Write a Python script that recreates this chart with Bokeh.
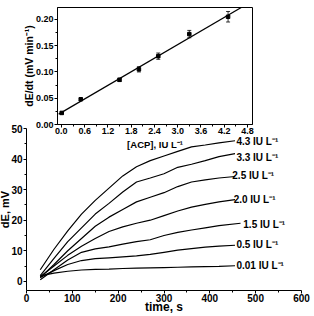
from bokeh.plotting import figure
from bokeh.models import (ColumnDataSource, Whisker, TeeHead,
                          FixedTicker, NumeralTickFormatter)
from bokeh.core.properties import value
from bokeh.embed import file_html
from bokeh.resources import INLINE
import numpy as np

FONT = "Liberation Sans"

# ---- kinetic curves: potential change vs time for each ACP activity ----
time_s = [30, 60, 90, 120, 150, 180, 210, 240, 270, 300, 330, 360, 390, 420, 455]
de_43 = [3.8, 10.5, 16.5, 22.0, 26.5, 30.5, 34.5, 37.5, 39.5, 41.0, 42.5, 44.0, 44.6, 45.3, 46.0]
de_33 = [1.9, 7.5, 13.0, 17.5, 22.0, 25.5, 29.2, 32.5, 33.8, 35.2, 37.3, 38.3, 39.5, 40.8, 41.8]
de_25 = [1.2, 5.5, 10.0, 14.0, 18.0, 21.0, 23.5, 26.0, 27.5, 29.0, 31.0, 32.5, 33.2, 33.8, 34.3]
de_20 = [1.5, 5.0, 8.5, 11.5, 14.0, 16.3, 17.8, 19.0, 20.0, 21.5, 23.0, 24.3, 25.2, 26.0, 26.7]
time_15 = [30, 60, 90, 120, 150, 180, 210, 240, 270, 300, 330, 360, 390, 420, 467]
de_15 = [0.5, 3.8, 7.0, 9.5, 10.6, 11.3, 12.2, 13.0, 13.6, 15.0, 16.0, 16.8, 17.5, 18.2, 19.0]
de_05 = [1.3, 3.5, 5.5, 6.8, 7.4, 7.7, 8.0, 8.3, 8.8, 9.5, 10.2, 10.7, 11.2, 11.5, 11.8]
de_001 = [1.8, 2.7, 3.3, 3.7, 3.9, 4.0, 4.2, 4.3, 4.4, 4.5, 4.6, 4.7, 4.8, 4.9, 5.1]

curve_labels = ["4.3 IU L⁻¹", "3.3 IU L⁻¹", "2.5 IU L⁻¹", "2.0 IU L⁻¹",
                "1.5 IU L⁻¹", "0.5 IU L⁻¹", "0.01 IU L⁻¹"]
label_x = [458, 458, 449, 452, 473, 458, 458]
label_y = [45.8, 40.6, 34.7, 26.8, 18.6, 12.0, 5.1]

# ---- calibration: initial rate vs ACP activity ----
acp = [0.01, 0.5, 1.5, 2.0, 2.5, 3.3, 4.3]
rate = [0.022, 0.048, 0.085, 0.105, 0.130, 0.172, 0.205]
rate_err = [0.002, 0.002, 0.003, 0.005, 0.006, 0.007, 0.010]
x_ticks_inset = [0.0, 0.6, 1.2, 1.8, 2.4, 3.0, 3.6, 4.2, 4.8]
y_ticks_inset = [0.00, 0.05, 0.10, 0.15, 0.20]


def style_axes(p, size):
    for ax in (p.xaxis[0], p.yaxis[0]):
        ax.major_label_text_font = FONT
        ax.major_label_text_font_style = "bold"
        ax.major_label_text_font_size = size
        ax.major_label_text_color = "black"
        ax.axis_line_color = "black"
        ax.major_tick_line_color = "black"
        ax.minor_tick_line_color = "black"
        ax.major_tick_in = 0
        ax.major_tick_out = 4
        ax.minor_tick_in = 0
        ax.minor_tick_out = 2
        ax.axis_label_text_font = FONT
        ax.axis_label_text_font_style = "bold"
        ax.axis_label_text_color = "black"
    p.grid.visible = False


# ---------------- main plot ----------------
# canvas starts 8 px left of the page edge so the y-axis title has room
main = figure(width=322, height=316, x_range=(0, 600), y_range=(-3, 50),
              output_backend="svg", toolbar_location=None,
              min_border_left=34, min_border_right=13,
              min_border_top=128, min_border_bottom=26)
main.styles = {"position": "absolute", "left": "-8px", "top": "0px"}
main.outline_line_color = None
style_axes(main, "10px")
main.xaxis.ticker = FixedTicker(ticks=list(range(0, 601, 100)),
                                minor_ticks=list(range(50, 600, 100)))
main.yaxis.ticker = FixedTicker(ticks=list(range(0, 51, 10)),
                                minor_ticks=list(range(5, 50, 10)))
main.xaxis.major_tick_out = 3
main.yaxis.major_tick_out = 3
main.xaxis.major_label_standoff = 0
main.yaxis.major_label_standoff = 1
main.xaxis.axis_label = "time, s"
main.xaxis.axis_label_text_font_size = "12px"
main.xaxis.axis_label_standoff = -5
main.yaxis.axis_label = "dE, mV"
main.yaxis.axis_label_text_font_size = "11px"
main.yaxis.axis_label_standoff = -3

series = [(time_s, de_43), (time_s, de_33), (time_s, de_25), (time_s, de_20),
          (time_15, de_15), (time_s, de_05), (time_s, de_001)]
for xs, ys in series:
    main.line(xs, ys, line_color="black", line_width=1.2)

main.text(x=label_x, y=label_y, text=curve_labels,
          text_font=value(FONT), text_font_style="bold",
          text_font_size="10px", text_color="black",
          text_align="left", text_baseline="middle")

# ---------------- inset: calibration ----------------
inset = figure(width=314, height=316, x_range=(-0.1, 4.93), y_range=(0, 0.2226),
               output_backend="svg", toolbar_location=None,
               min_border_left=57, min_border_right=62,
               min_border_top=7, min_border_bottom=192)
inset.border_fill_alpha = 0
inset.background_fill_color = "white"
inset.outline_line_color = "black"
inset.outline_line_width = 1
style_axes(inset, "9px")
inset.xaxis.ticker = FixedTicker(ticks=x_ticks_inset,
                                 minor_ticks=[0.3 + 0.6 * i for i in range(8)])
inset.yaxis.ticker = FixedTicker(ticks=y_ticks_inset,
                                 minor_ticks=[0.025 + 0.05 * i for i in range(4)])
inset.xaxis.formatter = NumeralTickFormatter(format="0.0")
inset.yaxis.formatter = NumeralTickFormatter(format="0.00")
inset.xaxis.major_tick_out = 3
inset.yaxis.major_tick_out = 3
inset.xaxis.major_label_standoff = 0
inset.yaxis.major_label_standoff = 1
inset.xaxis.axis_label = "[ACP], IU L⁻¹"
inset.yaxis.axis_label = "dE/dt (mV min⁻¹)"
inset.xaxis.axis_label_text_font_size = "9.5px"
inset.yaxis.axis_label_text_font_size = "10.5px"
inset.xaxis.axis_label_standoff = 2
inset.yaxis.axis_label_standoff = -2

# least-squares calibration line
slope, intercept = np.polyfit(acp, rate, 1)
fit_x = np.array([-0.07, 4.93])
inset.line(fit_x, slope * fit_x + intercept, line_color="black", line_width=1.2)

src = ColumnDataSource(dict(
    x=acp, y=rate,
    lower=[r - e for r, e in zip(rate, rate_err)],
    upper=[r + e for r, e in zip(rate, rate_err)],
))
inset.add_layout(Whisker(source=src, base="x", lower="lower", upper="upper",
                         line_color="black", line_width=0.8,
                         lower_head=TeeHead(size=4, line_color="black", line_width=0.8),
                         upper_head=TeeHead(size=4, line_color="black", line_width=0.8)))
inset.scatter("x", "y", source=src, marker="square", size=3.5,
              fill_color="black", line_color="black")

# the inset is a second root laid over the main plot's top-left corner
inset.styles = {"position": "absolute", "left": "0px", "top": "0px"}

with open("out.html", "w") as f:
    f.write(file_html([main, inset], INLINE))
